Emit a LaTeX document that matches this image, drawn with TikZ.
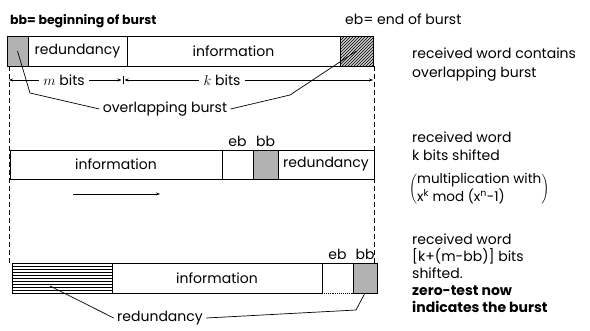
\documentclass[tikz,border=0pt]{standalone}
\usepackage{fontspec}
\setmainfont{Poppins}
\usepackage{tikz}
\usetikzlibrary{arrows.meta,patterns,positioning,calc}

\tikzset{
  field/.style={draw, line width=0.9pt, inner sep=0pt, outer sep=0pt, anchor=north west, minimum height=30pt},
  burstfill/.style={fill=gray!60},
  dimline/.style={line width=0.6pt, -{Stealth[length=4pt,width=3pt]}},
  pointer/.style={line width=0.7pt},
  note/.style={anchor=base west, align=left, inner sep=0pt},
}

\begin{document}
\begin{tikzpicture}[x=1pt,y=-1pt,font=\fontsize{14}{16}\selectfont]
\useasboundingbox (0,0) rectangle (590,330);

% header
\node[anchor=base west,inner sep=0pt,font=\fontsize{12.5}{14}\selectfont\bfseries] (bbdef) at (10,24) {bb= beginning of burst};
\node[anchor=base west,inner sep=0pt] (ebdef) at (345,24) {eb= end of burst};

% first word
\node[field, burstfill, minimum width=21pt] (bur1a) at (7,36) {};
\node[field, minimum width=99pt] (red1) at (28,36) {redundancy};
\node[field, minimum width=213pt] (inf1) at (127,36) {information};
\node[field, preaction={fill=gray!40}, pattern=north east lines, minimum width=33pt] (bur1b) at (340,36) {};

% bit counts
\coordinate (d0) at (9,80);
\coordinate (d1) at (123,80);
\coordinate (d2) at (373,80);
\node[inner sep=4pt] (mbits) at (64,80) {$m$ bits};
\node[inner sep=4pt] (kbits) at (222,80) {$k$ bits};
\draw[dimline] (mbits) -- (d0);
\draw[dimline] (mbits) -- ($(d1)+(-1.5,0)$);
\draw[dimline] (kbits) -- ($(d1)+(1.5,0)$);
\draw[dimline] (kbits) -- (d2);
\draw[line width=0.6pt] (d1) ++(0,-4) -- ++(0,8);

\node (ovb) at (165,109) {overlapping burst};
\draw[pointer] (bur1a.center) -- (30,93) -- (ovb.west);
\draw[pointer] (ovb.east) -- (290,95) -- (bur1b.center);

% borders of the word
\draw[dash pattern=on 5pt off 3pt, line width=0.6pt] (9,66) -- (9,263);
\draw[dash pattern=on 5pt off 3pt, line width=0.6pt] (374,66) -- (374,263);

% shifted by k bits
\node[field, minimum width=212pt, minimum height=29pt] (inf2) at (10,150) {information};
\node[field, minimum width=31pt, minimum height=29pt] (eb2) at (222,150) {};
\node[field, burstfill, minimum width=25pt, minimum height=29pt] (bb2) at (253,150) {};
\node[field, minimum width=96pt, minimum height=29pt] (red2) at (278,150) {redundancy};
\node[above=0pt of eb2] {eb};
\node[above=0pt of bb2] {bb};
\coordinate (sh0) at (73,194);
\coordinate (sh1) at (160,194);
\draw[dimline] (sh0) -- (sh1);

% shifted by k+(m-bb) bits
\node[field, pattern=horizontal lines, minimum width=100pt] (red3) at (12,263) {};
\node[field, minimum width=210pt] (inf3) at (112,263) {information};
\node[field, draw=none, minimum width=31pt] (eb3) at (322,263) {};
\draw[line width=0.9pt] (eb3.north west) -- (eb3.north east);
\draw[densely dotted, line width=0.9pt] (eb3.south west) -- (eb3.south east);
\node[field, burstfill, minimum width=24pt] (bb3) at (353,263) {};
\node[above=0pt of eb3] {eb};
\node[above=0pt of bb3] {bb};
\node (red3lab) at (160,318) {redundancy};
\coordinate (r3tail) at (50,286);
\draw[pointer] (r3tail) -- (red3lab.west);
\draw[pointer] (red3lab.east) -- (356,310) -- (bb3.south);

% remarks
\node[note, font=\fontsize{14}{19}\selectfont] (rem1) at (412,77) {received word contains\\overlapping burst};
\node[note, font=\fontsize{14}{18}\selectfont] (rem2) at (412,160) {received word\\k bits shifted};
\node[note, font=\fontsize{13.5}{17}\selectfont] (rem2b) at (409,193)
  {$\Bigg(\vcenter{\hbox{\begin{tabular}{@{}l@{}}multiplication with\\x\textsuperscript{k} mod (x\textsuperscript{n}-1)\end{tabular}}}\Bigg)$};
\node[note, font=\fontsize{14}{17}\selectfont] (rem3) at (412,312)
  {received word\\{}[k+(m-bb)] bits\\shifted.\\\textbf{zero-test now}\\\textbf{indicates the burst}};
\end{tikzpicture}
\end{document}
